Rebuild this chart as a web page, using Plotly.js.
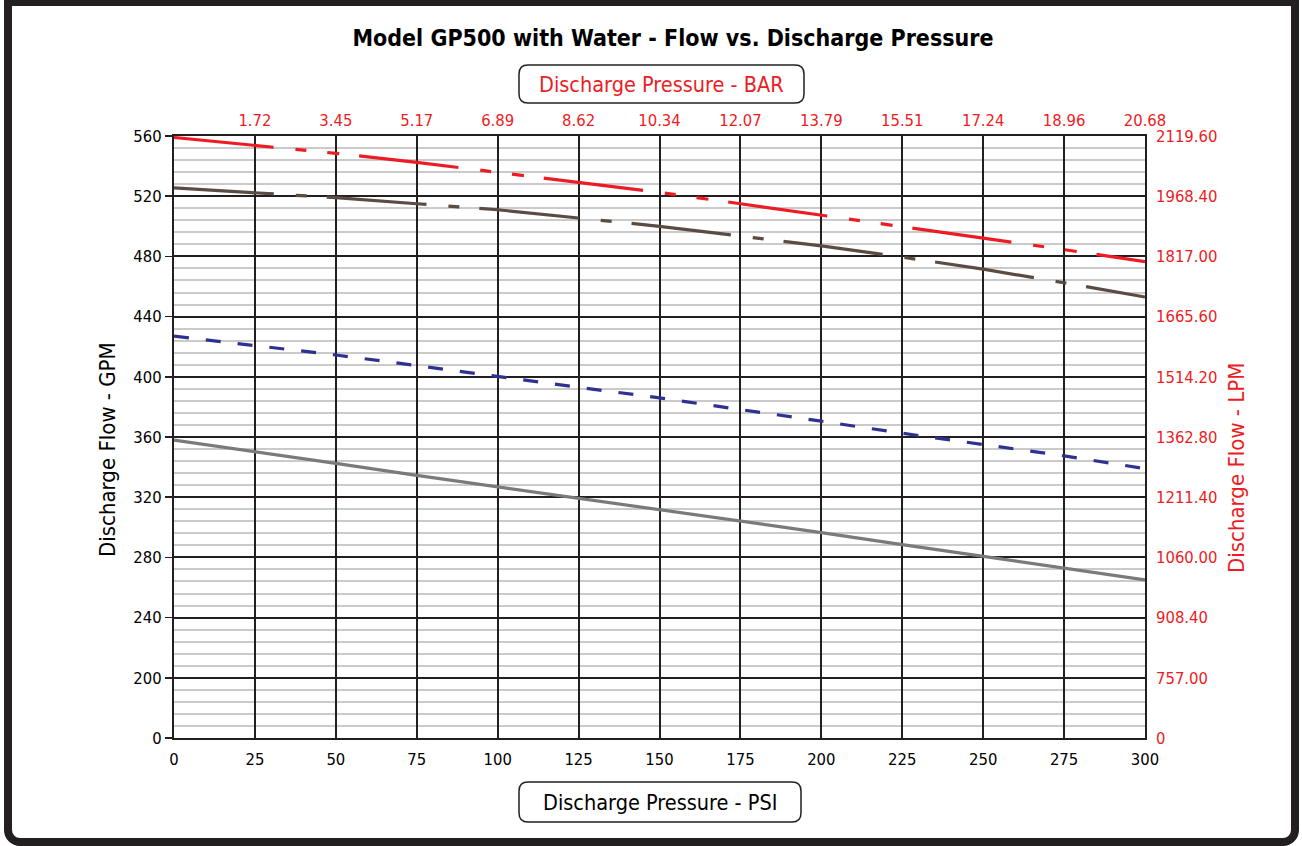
<!DOCTYPE html>
<html>
<head>
<meta charset="utf-8">
<script src="https://cdn.plot.ly/plotly-3.0.1.min.js"></script>
<style>
  html, body { margin: 0; padding: 0; background: #ffffff; overflow: hidden; }
  #chart { width: 1302px; height: 846px; }
  #frame {
    position: absolute; left: 4px; top: -2px; width: 1295px; height: 848px;
    box-sizing: border-box; border: 8px solid #231f20;
    border-radius: 0 0 16px 16px; pointer-events: none;
  }
</style>
</head>
<body>
<div id="chart"></div>
<div id="frame"></div>
<script>
// ---- data ----
const psi = [0, 25, 50, 75, 100, 125, 150, 175, 200, 225, 250, 275, 300];
const redGPM   = [559, 554, 548.5, 542.5, 536, 529.5, 522.5, 515, 507.5, 500, 492.5, 484.5, 476.5];
const brownGPM = [525.5, 522.5, 519, 515, 511, 505.5, 500, 493.5, 487, 479.5, 471.5, 462.5, 453];
const blueGPM  = [427, 421, 414.5, 407.5, 400, 393, 386, 378.5, 370.5, 362.5, 355, 347.5, 339];
const grayGPM  = [358, 350.5, 342.5, 334.5, 327, 319.5, 311.5, 304, 296.5, 288.5, 280.5, 272.5, 265];

const psiTickVals = [0, 25, 50, 75, 100, 125, 150, 175, 200, 225, 250, 275, 300];
const barTickVals = [25, 50, 75, 100, 125, 150, 175, 200, 225, 250, 275, 300];
const barTickText = ["1.72", "3.45", "5.17", "6.89", "8.62", "10.34", "12.07", "13.79", "15.51", "17.24", "18.96", "20.68"];
// the flow axis is broken: its bottom interval runs from 0 straight to 200
const gpmTickVals = [160, 200, 240, 280, 320, 360, 400, 440, 480, 520, 560];
const gpmTickText = ["0", "200", "240", "280", "320", "360", "400", "440", "480", "520", "560"];
const lpmTickText = ["0", "757.00", "908.40", "1060.00", "1211.40", "1362.80", "1514.20", "1665.60", "1817.00", "1968.40", "2119.60"];

// ---- layout helpers ----
const W = 1302, H = 846, L = 174, R = 1145, T = 136, B = 738;
const X = px => (px - L) / (R - L);
const Y = py => (B - py) / (B - T);
function roundRect(x0, y0, x1, y1, r) {
  const p = (a, b) => X(a) + ',' + Y(b);
  return 'M' + p(x0 + r, y0) + ' L' + p(x1 - r, y0) + ' Q' + p(x1, y0) + ' ' + p(x1, y0 + r) +
    ' L' + p(x1, y1 - r) + ' Q' + p(x1, y1) + ' ' + p(x1 - r, y1) +
    ' L' + p(x0 + r, y1) + ' Q' + p(x0, y1) + ' ' + p(x0, y1 - r) +
    ' L' + p(x0, y0 + r) + ' Q' + p(x0, y0) + ' ' + p(x0 + r, y0) + ' Z';
}

const FONT = "'DejaVu Sans Condensed', 'Liberation Sans Narrow', sans-serif";
const RED = '#ed1c24', INK = '#231f20';
const TICK = 16.5;

const traces = [
  { x: psi, y: redGPM, mode: 'lines', line: { color: RED, width: 3.2, dash: '100px,22px,11px,21px,12px,20px' }, hoverinfo: 'skip' },
  { x: psi, y: brownGPM, mode: 'lines', line: { color: '#5a4b43', width: 3.2, dash: '100px,22px,11px,20px' }, hoverinfo: 'skip' },
  { x: psi, y: blueGPM, mode: 'lines', line: { color: '#2e3192', width: 3.2, dash: '15px,17px' }, hoverinfo: 'skip' },
  { x: psi, y: grayGPM, mode: 'lines', line: { color: '#7a7a7d', width: 3.2 }, hoverinfo: 'skip' },
  { x: psi, y: grayGPM, xaxis: 'x2', yaxis: 'y2', mode: 'lines', line: { width: 0 }, opacity: 0, hoverinfo: 'skip' }
];

const layout = {
  width: W, height: H,
  margin: { l: L, r: W - R, t: T, b: H - B, pad: 0 },
  paper_bgcolor: '#ffffff', plot_bgcolor: '#ffffff',
  showlegend: false,
  font: { family: FONT, color: '#000000', size: TICK },
  title: {
    text: '<b>Model GP500 with Water - Flow vs. Discharge Pressure</b>',
    font: { family: FONT, size: 23, color: '#000000' },
    x: 673 / W, xref: 'container', xanchor: 'center',
    y: 1 - 38 / H, yref: 'container', yanchor: 'middle'
  },
  xaxis: {
    range: [0, 300], tickmode: 'array', tickvals: psiTickVals,
    ticks: '', showline: true, mirror: true, linecolor: INK, linewidth: 2,
    showgrid: true, gridcolor: INK, gridwidth: 2, zeroline: false,
    tickfont: { family: FONT, size: TICK, color: '#000000' }, ticklabelstandoff: 5
  },
  xaxis2: {
    overlaying: 'x', side: 'top', range: [0, 300], tickmode: 'array',
    tickvals: barTickVals, ticktext: barTickText, ticks: '', showgrid: false, zeroline: false,
    showline: false, tickfont: { family: FONT, size: TICK, color: RED }, ticklabelstandoff: 6
  },
  yaxis: {
    range: [160, 560], tickmode: 'array', tickvals: gpmTickVals, ticktext: gpmTickText,
    ticks: 'outside', ticklen: 7, tickwidth: 1.5, tickcolor: INK,
    showline: true, mirror: true, linecolor: INK, linewidth: 2,
    showgrid: true, gridcolor: INK, gridwidth: 2, zeroline: false,
    tickfont: { family: FONT, size: TICK, color: '#000000' },
    minor: { tickmode: 'linear', tick0: 160, dtick: 8, showgrid: true, gridcolor: '#cacaca', gridwidth: 2, ticks: '' }
  },
  yaxis2: {
    overlaying: 'y', side: 'right', range: [160, 560], tickmode: 'array',
    tickvals: gpmTickVals, ticktext: lpmTickText, ticks: '', showgrid: false, zeroline: false,
    showline: false, tickfont: { family: FONT, size: TICK, color: RED }, ticklabelstandoff: 10
  },
  shapes: [
    { type: 'path', xref: 'paper', yref: 'paper', path: roundRect(519, 65, 804, 103, 9), line: { color: INK, width: 1.5 }, fillcolor: 'rgba(0,0,0,0)' },
    { type: 'path', xref: 'paper', yref: 'paper', path: roundRect(519, 782, 801, 822, 9), line: { color: INK, width: 1.5 }, fillcolor: 'rgba(0,0,0,0)' }
  ],
  annotations: [
    { text: 'Discharge Pressure - BAR', xref: 'paper', yref: 'paper', x: X(661.5), y: Y(85), xanchor: 'center', yanchor: 'middle', showarrow: false, font: { family: FONT, size: 21.5, color: RED } },
    { text: 'Discharge Pressure - PSI', xref: 'paper', yref: 'paper', x: X(660), y: Y(802), xanchor: 'center', yanchor: 'middle', showarrow: false, font: { family: FONT, size: 21.5, color: '#000000' } },
    { text: 'Discharge Flow - GPM', xref: 'paper', yref: 'paper', x: X(107), y: Y(450), xanchor: 'center', yanchor: 'middle', textangle: -90, showarrow: false, font: { family: FONT, size: 22, color: '#000000' } },
    { text: 'Discharge Flow - LPM', xref: 'paper', yref: 'paper', x: X(1236), y: Y(468), xanchor: 'center', yanchor: 'middle', textangle: -90, showarrow: false, font: { family: FONT, size: 22, color: RED } }
  ]
};

Plotly.newPlot('chart', traces, layout, { staticPlot: true, displayModeBar: false });
</script>
</body>
</html>
